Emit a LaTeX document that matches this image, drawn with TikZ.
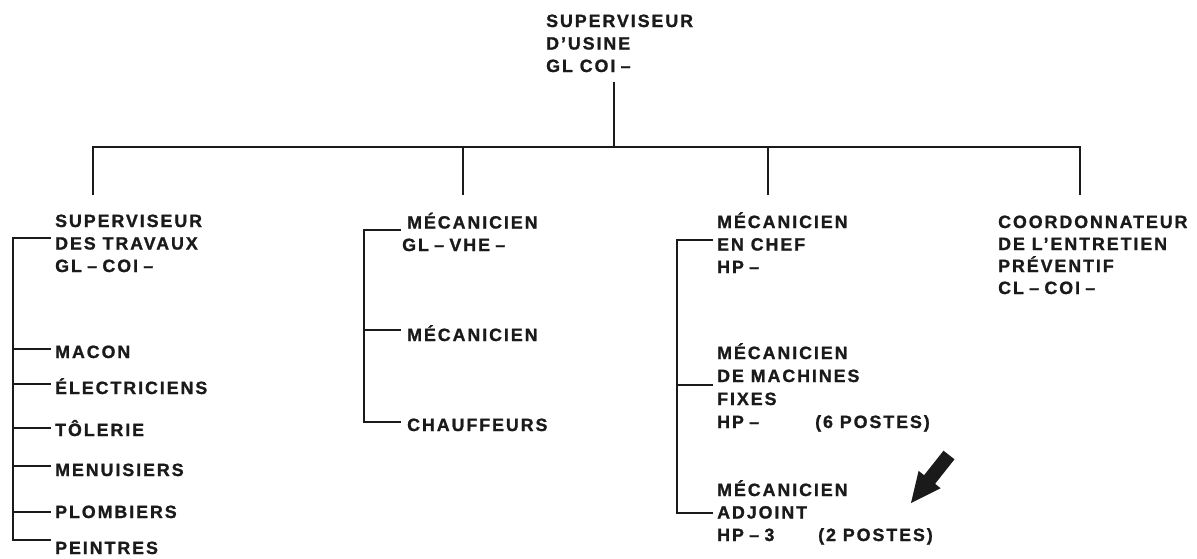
\documentclass[tikz,border=0pt]{standalone}
\usepackage{fontspec}
\newfontfamily\lblfont{Liberation Sans Bold}[LetterSpace=11,FakeBold=1.2]
\definecolor{ink}{HTML}{1A1A1A}
\newcommand{\dsh}{\hspace{0.3em}–\hspace{0.3em}}
\newcommand{\edsh}{\hspace{0.3em}–}
\begin{document}
\begin{tikzpicture}[x=1pt,y=-1pt,
  lbl/.style={inner sep=0pt, anchor=base west, align=left,
    font=\lblfont\fontsize{17.8}{22.5}\selectfont, text=ink},
  wire/.style={draw=ink, line width=1.7pt, line cap=rect}]
\useasboundingbox (0,0) rectangle (1197,558);

% ---- labels (positioned by the baseline of their last line) ----
\node[lbl] (top) at (546,72) {SUPERVISEUR\\D’USINE\\GL COI\edsh};

\node[lbl] (sup) at (55,272) {SUPERVISEUR\\DES TRAVAUX\\GL\dsh COI\edsh};
\node[lbl] (macon) at (55,358) {MACON};
\node[lbl] (elec)  at (55,394) {ÉLECTRICIENS};
\node[lbl] (tole)  at (55,436) {TÔLERIE};
\node[lbl] (menu)  at (55,476) {MENUISIERS};
\node[lbl] (plomb) at (55,518) {PLOMBIERS};
\node[lbl] (peint) at (55,554) {PEINTRES};

\node[lbl] (meca) at (402,251) {\hspace{5pt}MÉCANICIEN\\GL\dsh VHE\edsh};
\node[lbl] (mecb) at (407,341) {MÉCANICIEN};
\node[lbl] (chauf) at (407,431) {CHAUFFEURS};

\node[lbl] (chef) at (717,273) {MÉCANICIEN\\EN CHEF\\HP\edsh};
\node[lbl, font=\lblfont\fontsize{17.8}{23}\selectfont] (fixes) at (717,428) {MÉCANICIEN\\DE MACHINES\\FIXES\\HP\edsh};
\node[lbl] (p6) at (815,428) {(6 POSTES)};
\node[lbl] (adj) at (717,541) {MÉCANICIEN\\ADJOINT\\HP\dsh 3};
\node[lbl] (p2) at (818,541) {(2 POSTES)};

\node[lbl, font=\lblfont\fontsize{17.8}{22}\selectfont] (coord) at (998,294) {COORDONNATEUR\\DE L’ENTRETIEN\\PRÉVENTIF\\CL\dsh COI\edsh};

% ---- junction coordinates ----
\coordinate (t0) at (614,83);
\coordinate (j0) at (614,147);
\coordinate (c1) at (93,147);   \coordinate (d1) at (93,194);
\coordinate (c2) at (463,147);  \coordinate (d2) at (463,194);
\coordinate (c3) at (768,147);  \coordinate (d3) at (768,194);
\coordinate (c4) at (1080,147); \coordinate (d4) at (1080,194);

\coordinate (ls) at (13,238);  \coordinate (le) at (13,540);
\coordinate (ms) at (364,230); \coordinate (me) at (364,422);
\coordinate (rs) at (677,240); \coordinate (re) at (677,513);

% ---- top level ----
\draw[wire] (t0) -- (j0);
\draw[wire] (d1) -- (c1) -- (c4) -- (d4);
\draw[wire] (c2) -- (d2);
\draw[wire] (c3) -- (d3);

% ---- left column ----
\draw[wire] (50,238) -- (ls) -- (le) -- (50,540);
\foreach \yy in {349,384,428,466,512}
  \draw[wire] (ls |- 0,\yy) -- (50,\yy);

% ---- middle column ----
\draw[wire] (400,230) -- (ms) -- (me) -- (400,422);
\draw[wire] (ms |- 0,330) -- (400,330);

% ---- third column ----
\draw[wire] (712,240) -- (rs) -- (re) -- (712,513);
\draw[wire] (rs |- 0,385) -- (712,385);

% ---- block arrow ----
\fill[ink] (943.5,450.7) -- (954.5,459.3) -- (935.1,483.8) -- (940.6,488.2)
  -- (911,503) -- (918.6,470.8) -- (924.1,475.2) -- cycle;
\end{tikzpicture}
\end{document}
